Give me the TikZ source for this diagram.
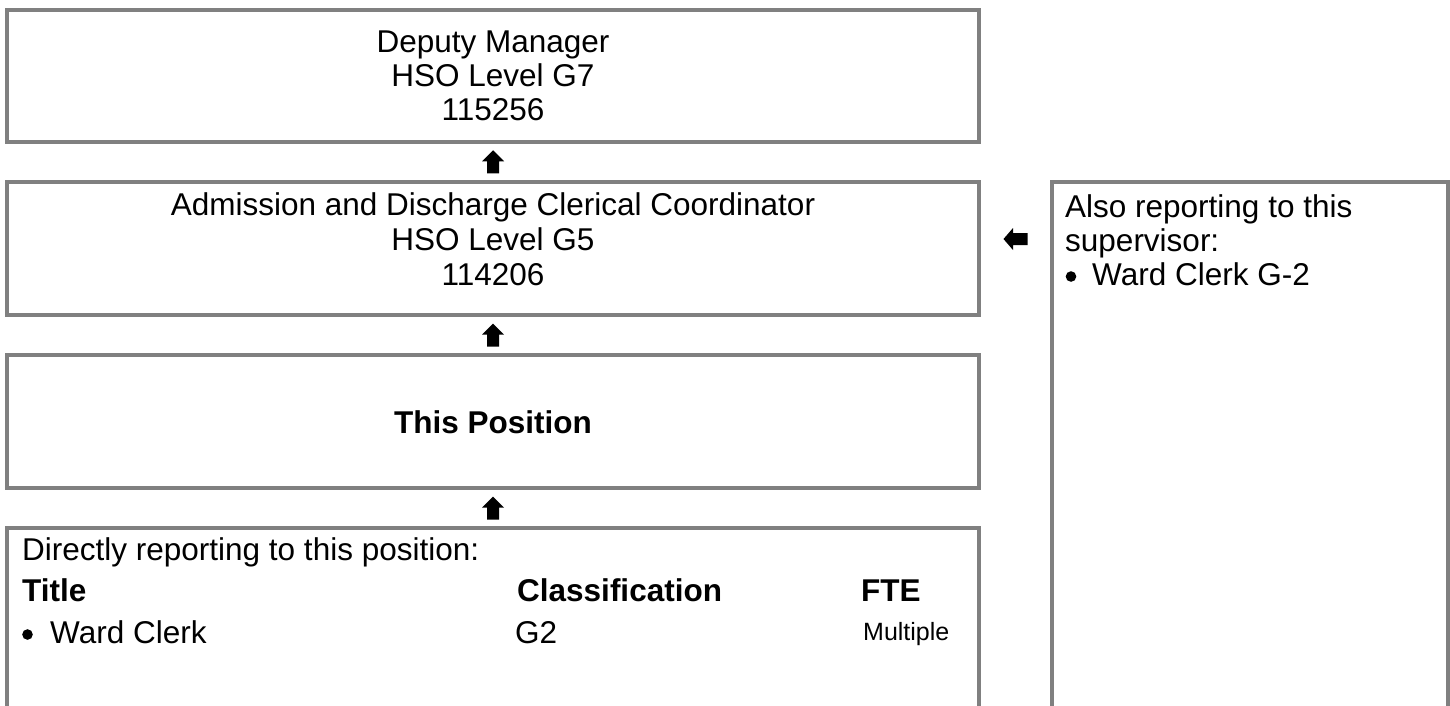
\documentclass[tikz,border=0pt]{standalone}
\usepackage{fontspec}
\setmainfont{Liberation Sans}
\usetikzlibrary{calc}
\definecolor{boxgray}{RGB}{128,128,128}
\begin{document}
\begin{tikzpicture}[x=1pt,y=-1pt,
  box/.style={draw=boxgray,line width=4pt,inner sep=0pt,outer sep=2pt},
  txt/.style={inner sep=0pt,font=\fontsize{31.5}{37.5}\selectfont},
  ctxt/.style={txt,anchor=base},
  ltxt/.style={txt,anchor=base west},
  smalltxt/.style={inner sep=0pt,anchor=base west,font=\fontsize{25}{30}\selectfont},
  bulletdot/.style={fill=black},
  uparrow/.pic={\fill[black] (0,-11.5) -- (11,-0.5) -- (6,-0.5) -- (6,11.5) -- (-6,11.5) -- (-6,-0.5) -- (-11,-0.5) -- cycle;},
  leftarrow/.pic={\fill[black] (-12,0) -- (-2.5,-11) -- (-2.5,-6) -- (12,-6) -- (12,6) -- (-2.5,6) -- (-2.5,11) -- cycle;}
]
\useasboundingbox (0,0) rectangle (1450,705);
\clip (0,0) rectangle (1450,705);

% boxes
\node[box,minimum width=972,minimum height=132] (dm) at (493,75.5) {};
\node[box,minimum width=972,minimum height=133] (adc) at (493,248.5) {};
\node[box,minimum width=972,minimum height=133] (pos) at (493,421.5) {};
\node[box,minimum width=972,minimum height=260] (rep) at (493,658) {};
\node[box,minimum width=396,minimum height=600] (also) at (1250,482) {};

% texts in top box
\node[ctxt] (dm1) at (493,52) {Deputy Manager};
\node[ctxt] (dm2) at (493,86) {HSO Level G7};
\node[ctxt] (dm3) at (493,120) {115256};

% texts in second box
\node[ctxt] (adc1) at (493,215) {Admission and Discharge Clerical Coordinator};
\node[ctxt] (adc2) at (493,250) {HSO Level G5};
\node[ctxt] (adc3) at (493,285) {114206};

% this position
\node[ctxt,font=\fontsize{31.5}{37.5}\selectfont\bfseries] (posl) at (493,433) {This Position};

% directly reporting
\node[ltxt] (rep1) at (22,560) {Directly reporting to this position:};
\node[ltxt,font=\fontsize{31.5}{37.5}\selectfont\bfseries] (repT) at (22,601) {Title};
\node[ltxt,font=\fontsize{31.5}{37.5}\selectfont\bfseries] (repC) at (517,601) {Classification};
\node[ltxt,font=\fontsize{31.5}{37.5}\selectfont\bfseries] (repF) at (861,601) {FTE};
\node[ltxt] (rep2) at (50,643) {Ward Clerk};
\node[ltxt] (rep3) at (515,643) {G2};
\node[smalltxt] (rep4) at (863,640) {Multiple};
\fill[bulletdot] ($(rep2.base west)+(-22.5,-8.5)$) circle (5.3);

% also reporting
\node[ltxt] (al1) at (1065,217) {Also reporting to this};
\node[ltxt] (al2) at (1065,251) {supervisor:};
\node[ltxt] (al3) at (1092,285) {Ward Clerk G-2};
\fill[bulletdot] ($(al3.base west)+(-21,-8.5)$) circle (5.3);

% arrows
\coordinate (a1) at ($(dm.south)!0.5!(adc.north)$);
\coordinate (a2) at ($(adc.south)!0.5!(pos.north)$);
\coordinate (a3) at ($(pos.south)!0.5!(rep.north)$);
\coordinate (a4) at ($(adc.east)!0.5!(also.west |- adc.east)+(0,-9.5)$);
\pic at (a1) {uparrow};
\pic at (a2) {uparrow};
\pic at (a3) {uparrow};
\pic at (a4) {leftarrow};
\end{tikzpicture}
\end{document}
